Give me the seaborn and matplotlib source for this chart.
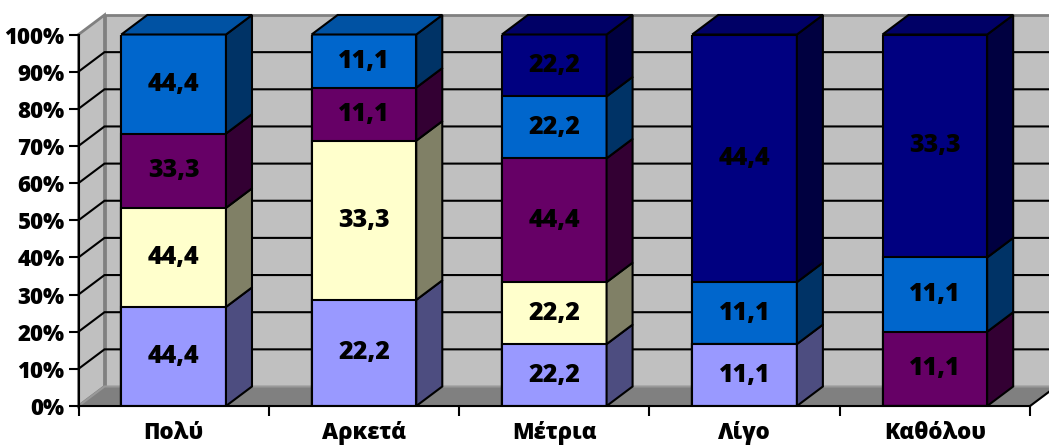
import numpy as np
import pandas as pd
import matplotlib
matplotlib.use("Agg")
import matplotlib.pyplot as plt
import seaborn as sns
from matplotlib.patches import Polygon
from matplotlib.ticker import FixedLocator, FuncFormatter

# ---------------- data ----------------
categories = ["Πολύ", "Αρκετά", "Μέτρια", "Λίγο", "Καθόλου"]
s1_lightpurple = [44.4, 22.2, 22.2, 11.1, 0.0]
s2_yellow = [44.4, 33.3, 22.2, 0.0, 0.0]
s3_purple = [33.3, 11.1, 44.4, 0.0, 11.1]
s4_blue = [44.4, 11.1, 22.2, 11.1, 11.1]
s5_navy = [0.0, 0.0, 22.2, 44.4, 33.3]
yticks = list(range(0, 101, 10))

front_colors = ["#9999FF", "#FFFFCC", "#660066", "#0066CC", "#000080"]
side_colors = ["#4D4D80", "#808066", "#330033", "#003366", "#000040"]
top_colors = ["#7A7ACC", "#CCCCA3", "#520052", "#0052A3", "#000066"]

# ---------------- setup ----------------
sns.set_theme(style="white")
plt.rcParams["font.family"] = ["Open Sans", "DejaVu Sans"]
plt.rcParams["font.weight"] = "heavy"

W, H = 1049, 446
fig = plt.figure(figsize=(W / 100, H / 100), dpi=100)
fig.patch.set_facecolor("white")
ax = fig.add_axes([78.5 / W, 40 / H, 951.5 / W, 371.5 / H])
ax.patch.set_visible(False)

values = np.array([s1_lightpurple, s2_yellow, s3_purple, s4_blue, s5_navy])
pct = values / values.sum(axis=0) * 100
cum = pct.cumsum(axis=0)

# depth offsets (data units)
dx = 26 / 190.3
dy = 19.5 / 3.715

# walls
wall_c = "#C0C0C0"
ax.add_patch(Polygon([(-0.5 + dx, dy), (4.5 + dx, dy), (4.5 + dx, 100 + dy), (-0.5 + dx, 100 + dy)],
                     closed=True, fc=wall_c, ec="#808080", lw=2, clip_on=False, zorder=0.1))
ax.add_patch(Polygon([(-0.5, 0), (-0.5 + dx, dy), (-0.5 + dx, 100 + dy), (-0.5, 100)],
                     closed=True, fc=wall_c, ec="#808080", lw=2, clip_on=False, zorder=0.15))
ax.add_patch(Polygon([(-0.5, 0), (4.5, 0), (4.5 + dx, dy), (-0.5 + dx, dy)],
                     closed=True, fc="#808080", ec="#999999", lw=1.5, clip_on=False, zorder=0.15))
ax.plot([4.5, 4.5 + dx], [0, dy], color="black", lw=1.5, clip_on=False, zorder=0.2)
for v in yticks[1:-1]:
    ax.plot([-0.5, -0.5 + dx, 4.5 + dx], [v, v + dy, v + dy], color="black", lw=1.5,
            clip_on=False, zorder=0.2, solid_joinstyle="miter")

# front faces: overlapping cumulative bars drawn from top series down
for i in range(len(front_colors) - 1, -1, -1):
    sns.barplot(x=categories, y=cum[i], order=categories, color=front_colors[i],
                saturation=1, width=0.55, edgecolor="black", linewidth=1.5, ax=ax, zorder=2)

bars = ax.containers[0]
for j, bar in enumerate(bars):
    x0 = bar.get_x()
    x1 = x0 + bar.get_width()
    xc = (x0 + x1) / 2
    top_i = None
    for i in range(len(front_colors)):
        if values[i, j] <= 0:
            continue
        y0 = cum[i, j] - pct[i, j]
        y1 = cum[i, j]
        ax.add_patch(Polygon([(x1, y0), (x1 + dx, y0 + dy), (x1 + dx, y1 + dy), (x1, y1)],
                             closed=True, fc=side_colors[i], ec="black", lw=1.5,
                             clip_on=False, zorder=2.2, joinstyle="miter"))
        ax.text(xc, (y0 + y1) / 2, f"{values[i, j]:.1f}".replace(".", ","), ha="center",
                va="center", fontsize=18, fontweight="heavy", color="black", zorder=4)
        top_i = i
    ax.add_patch(Polygon([(x0, 100), (x0 + dx, 100 + dy), (x1 + dx, 100 + dy), (x1, 100)],
                         closed=True, fc=top_colors[top_i], ec="black", lw=1.5,
                         clip_on=False, zorder=2.2, joinstyle="miter"))

# axes
ax.set_xlim(-0.5, 4.5)
ax.set_ylim(0, 100)
for s in ["top", "right"]:
    ax.spines[s].set_visible(False)
for s in ["left", "bottom"]:
    ax.spines[s].set_color("black")
    ax.spines[s].set_linewidth(1.5)
    ax.spines[s].set_zorder(3)

ax.yaxis.set_major_locator(FixedLocator(yticks))
ax.yaxis.set_major_formatter(FuncFormatter(lambda v, p: f"{int(round(v))}%"))
ax.tick_params(axis="y", which="major", left=True, direction="out", length=7, width=1.5,
               color="black", labelsize=16, pad=3, labelcolor="black")
ax.set_xticks(range(len(categories)))
ax.set_xticklabels(categories)
ax.xaxis.set_minor_locator(FixedLocator(np.arange(-0.5, 4.6, 1.0)))
ax.tick_params(axis="x", which="major", bottom=True, length=0, labelsize=16, pad=11,
               labelcolor="black")
ax.tick_params(axis="x", which="minor", bottom=True, direction="out", length=7, width=1.5,
               color="black")
for lab in ax.get_xticklabels() + ax.get_yticklabels():
    lab.set_fontweight("heavy")
ax.set_xlabel("")
ax.set_ylabel("")

fig.savefig("out.png", dpi=100)
